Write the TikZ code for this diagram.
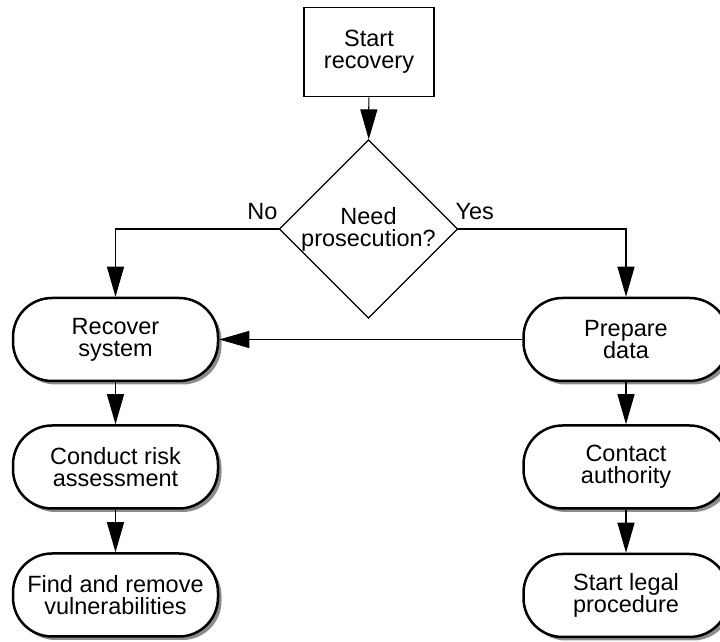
\documentclass[tikz,border=0pt]{standalone}
\usepackage{fontspec}
\setmainfont{Liberation Sans}
\usepackage{tikz}
\usetikzlibrary{arrows.meta,positioning,shapes.geometric,shadows}
\definecolor{ink}{RGB}{0,0,0}
\definecolor{shade}{RGB}{140,140,140}
\tikzset{
  txt/.style={font=\fontsize{23.5}{22}\selectfont,align=center,text=ink},
  startbox/.style={txt,draw=ink,line width=1.6pt,fill=white,minimum width=130pt,
    minimum height=89pt,inner sep=0pt},
  decide/.style={txt,diamond,draw=ink,line width=1.2pt,fill=white,minimum width=173pt,
    minimum height=172pt,inner sep=0pt},
  term/.style={txt,draw=ink,line width=2.5pt,fill=white,rounded corners=39pt,
    minimum width=205pt,minimum height=83pt,inner sep=0pt,
    drop shadow={shadow xshift=3.5pt,shadow yshift=-3.5pt,fill=shade,opacity=1}},
  lbl/.style={txt,inner sep=1pt},
  arr/.style={-{Triangle[length=30pt,width=17pt]},line width=1.2pt,draw=ink},
}

\begin{document}
\begin{tikzpicture}[x=1pt,y=1pt]
\path[use as bounding box,clip] (0,0) rectangle (720,642);
\fill[white] (0,0) rectangle (720,642);
% top of the chart
\node[startbox] (start) at (369,590) {Start\\recovery};
\node[decide] (need) at (368.5,413) {Need\\prosecution?};
\node[lbl,anchor=south east] (no) at ([yshift=8pt]need.west) {No};
\node[lbl,anchor=south west] (yes) at ([xshift=-4pt,yshift=8pt]need.east) {Yes};
% left branch
\node[term] (recover) at (115.5,302.5) {Recover\\system};
\node[term] (risk) at (115.5,175) {Conduct risk\\assessment};
\node[term] (vuln) at (115.5,47) {Find and remove\\vulnerabilities};
% right branch
\node[term] (prep) at (626,302.5) {Prepare\\data};
\node[term] (contact) at (626,175) {Contact\\authority};
\node[term] (legal) at (626,46.5) {Start legal\\procedure};
% connectors
\draw[arr] (start) -- (need);
\draw[arr] (need.west) -| (recover.north);
\draw[arr] (need.east) -| (prep.north);
\draw[arr] (prep.west) -- (recover.east);
\draw[arr] (recover) -- (risk);
\draw[arr] (risk) -- (vuln);
\draw[arr] (prep) -- (contact);
\draw[arr] (contact) -- (legal);
\end{tikzpicture}
\end{document}
